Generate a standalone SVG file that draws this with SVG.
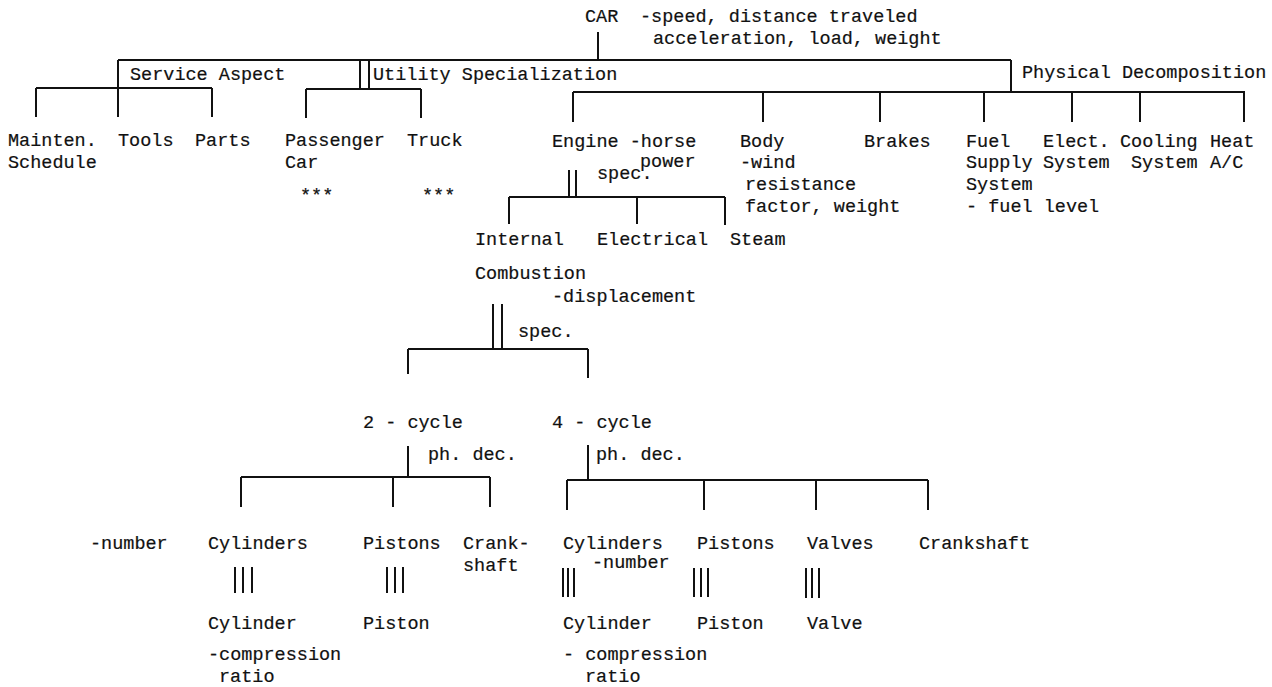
<svg xmlns="http://www.w3.org/2000/svg" width="1272" height="687" viewBox="0 0 1272 687">
<style>
text{font-family:"Liberation Mono","Courier New",monospace;font-size:18.5px;fill:#111;stroke:#111;stroke-width:0.2px}
.c path{stroke:#111;stroke-width:2;fill:none}
</style>
<rect width="1272" height="687" fill="#fff"/>
<g class="c" id="connectors">
<path d="M598 32V60M118 60H1011M118 60V117M36 88H212M36 88V117M212 88V117"/>
<path d="M360 60V89M369 60V89M306 89H421M306 89V118M421 89V118"/>
<path d="M1011 60V92M573 92H1245M573 92V122M763 92V122M880 92V122M984 92V122M1072 92V122M1140 92V122M1244 92V122"/>
<path d="M569 170V197M576 170V197M509 197H725M509 197V224M637 197V224M725 197V225"/>
<path d="M493 304V349M502 304V349M408 349H588M408 349V374M588 349V378"/>
<path d="M408 446V477M241 477H490M241 477V507M393 477V507M490 477V507"/>
<path d="M588 445V480M567 480H928M567 480V510M704 480V510M816 480V510M928 480V510"/>
<path d="M235 567V593M243 567V593M252 567V593M387 567V593M395 567V593M403 567V593"/>
<path d="M563 568V597M568 568V597M574 568V597M694 568V597M701 568V597M708 568V597M806 568V598M812 568V598M819 568V598"/>
</g>
<g id="car"><text x="585" y="22">CAR</text><text x="640" y="22">-speed, distance traveled</text><text x="653" y="44">acceleration, load, weight</text></g>
<g id="service-aspect"><text x="130" y="80">Service Aspect</text></g>
<g id="utility-specialization"><text x="373" y="80">Utility Specialization</text></g>
<g id="physical-decomposition"><text x="1022" y="78">Physical Decomposition</text></g>
<g id="mainten"><text x="8" y="146">Mainten.</text><text x="8" y="168">Schedule</text></g>
<g id="tools"><text x="118" y="146">Tools</text></g>
<g id="parts"><text x="195" y="146">Parts</text></g>
<g id="passenger"><text x="285" y="146">Passenger</text><text x="285" y="168">Car</text><text x="300" y="201">***</text></g>
<g id="truck"><text x="407" y="146">Truck</text><text x="422" y="201">***</text></g>
<g id="engine"><text x="552" y="147">Engine -horse</text><text x="640" y="167">power</text><text x="597" y="179">spec.</text></g>
<g id="body"><text x="740" y="147">Body</text><text x="740" y="168">-wind</text><text x="745" y="190">resistance</text><text x="745" y="212">factor, weight</text></g>
<g id="brakes"><text x="864" y="147">Brakes</text></g>
<g id="fuel"><text x="966" y="147">Fuel</text><text x="966" y="168">Supply</text><text x="966" y="190">System</text><text x="966" y="212">- fuel level</text></g>
<g id="elect"><text x="1043" y="147">Elect.</text><text x="1043" y="168">System</text></g>
<g id="cooling"><text x="1120" y="147">Cooling</text><text x="1131" y="168">System</text></g>
<g id="heat"><text x="1210" y="147">Heat</text><text x="1210" y="168">A/C</text></g>
<g id="internal"><text x="475" y="245">Internal</text><text x="475" y="279">Combustion</text><text x="552" y="302">-displacement</text><text x="518" y="337">spec.</text></g>
<g id="electrical"><text x="597" y="245">Electrical</text></g>
<g id="steam"><text x="730" y="245">Steam</text></g>
<g id="two-cycle"><text x="363" y="428">2 - cycle</text><text x="428" y="460">ph. dec.</text></g>
<g id="four-cycle"><text x="552" y="428">4 - cycle</text><text x="596" y="460">ph. dec.</text></g>
<g id="cylinders2"><text x="90" y="549">-number</text><text x="208" y="549">Cylinders</text></g>
<g id="pistons2"><text x="363" y="549">Pistons</text></g>
<g id="crankshaft2"><text x="463" y="549">Crank-</text><text x="463" y="571">shaft</text></g>
<g id="cylinders4"><text x="563" y="549">Cylinders</text><text x="592" y="568">-number</text></g>
<g id="pistons4"><text x="697" y="549">Pistons</text></g>
<g id="valves4"><text x="807" y="549">Valves</text></g>
<g id="crankshaft4"><text x="919" y="549">Crankshaft</text></g>
<g id="cylinder2"><text x="208" y="629">Cylinder</text><text x="208" y="660">-compression</text><text x="219" y="682">ratio</text></g>
<g id="piston2"><text x="363" y="629">Piston</text></g>
<g id="cylinder4"><text x="563" y="629">Cylinder</text><text x="563" y="660">- compression</text><text x="585" y="682">ratio</text></g>
<g id="piston4"><text x="697" y="629">Piston</text></g>
<g id="valve4"><text x="807" y="629">Valve</text></g>
</svg>
